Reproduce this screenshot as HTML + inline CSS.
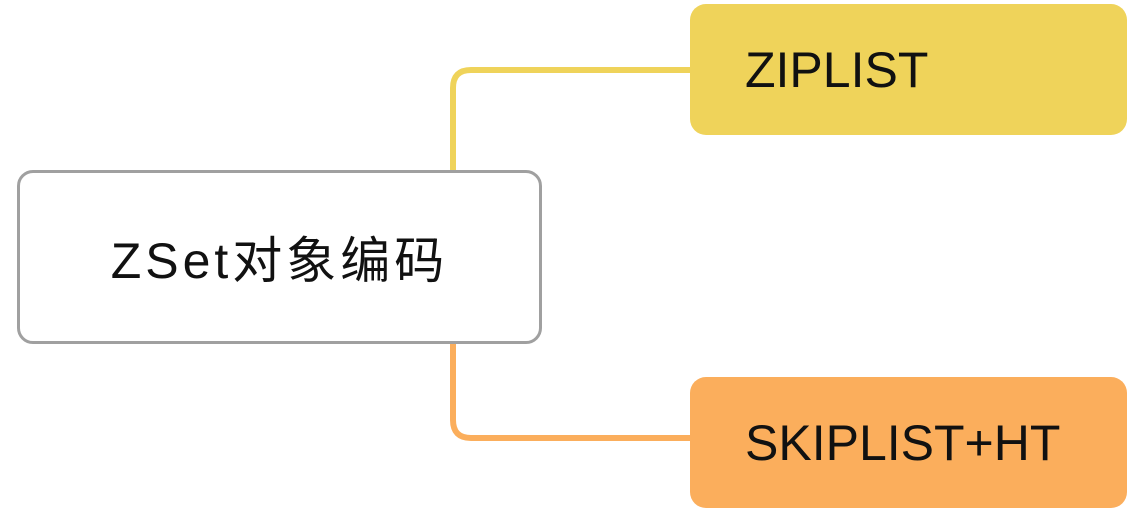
<!DOCTYPE html>
<html><head><meta charset="utf-8"><style>
html,body{margin:0;padding:0;background:#fff;}
body{width:1140px;height:516px;position:relative;overflow:hidden;font-family:"Liberation Sans","Noto Sans CJK SC",sans-serif;}
.b{position:absolute;box-sizing:border-box;display:flex;align-items:center;color:#111;font-size:50px;}
</style></head><body>
<svg width="1140" height="516" style="position:absolute;left:0;top:0">
<path d="M453 172 V88 Q453 70 471 70 H692" fill="none" stroke="#EFD35A" stroke-width="6"/>
<path d="M453 341 V420 Q453 438 471 438 H692" fill="none" stroke="#FBAE5C" stroke-width="6"/>
</svg>
<div class="b" style="left:17px;top:170px;width:525px;height:174px;border:3.5px solid #A0A0A0;border-radius:16px;background:#fff;justify-content:center;letter-spacing:4px;">ZSet对象编码</div>
<div class="b" style="left:690px;top:4px;width:437px;height:131px;border-radius:16px;background:#EFD35A;padding-left:55px;">ZIPLIST</div>
<div class="b" style="left:690px;top:377px;width:437px;height:131px;border-radius:16px;background:#FBAE5C;padding-left:55px;">SKIPLIST+HT</div>
</body></html>
